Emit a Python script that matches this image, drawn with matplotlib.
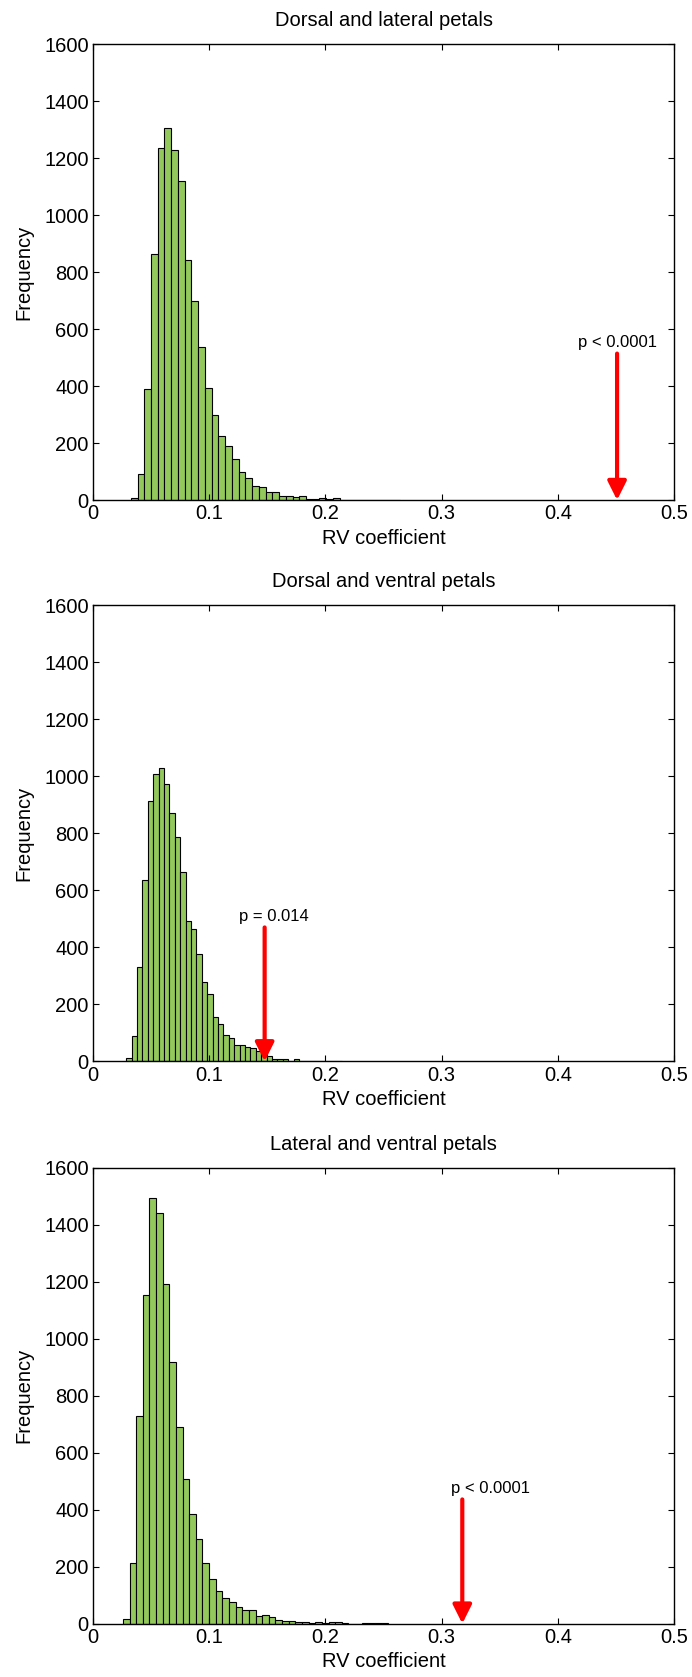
import numpy as np
import matplotlib
matplotlib.use("Agg")
import matplotlib.pyplot as plt

plt.rcParams['font.family'] = ['Liberation Sans', 'DejaVu Sans']

# histogram data (40 bins each)
titles = ["Dorsal and lateral petals", "Dorsal and ventral petals", "Lateral and ventral petals"]

start1 = 0.0325
width1 = 0.0058
counts1 = [8, 93, 391, 864, 1235, 1305, 1227, 1120, 842, 699,
           538, 394, 300, 226, 190, 145, 100, 79, 50, 47,
           30, 27, 13, 16, 10, 13, 5, 4, 6, 4,
           8, 2, 2, 1, 0, 1, 0, 1, 0, 1]

start2 = 0.0285
width2 = 0.00465
counts2 = [13, 88, 330, 638, 912, 1007, 1028, 975, 872, 789,
           666, 494, 465, 376, 278, 235, 154, 130, 91, 81,
           58, 58, 49, 46, 37, 28, 19, 9, 9, 9,
           2, 7, 1, 3, 1, 1, 1, 1, 0, 1]

start3 = 0.0257
width3 = 0.00571
counts3 = [16, 214, 729, 1155, 1494, 1440, 1193, 918, 689, 508,
           385, 298, 214, 155, 116, 89, 76, 60, 47, 49,
           27, 29, 22, 14, 10, 8, 5, 5, 1, 6,
           1, 5, 5, 1, 0, 0, 1, 1, 1, 1]

# observed RV coefficients and p-value labels
obs_rv = [0.451, 0.1477, 0.3178]
arrow_top = [514, 470, 436]
p_labels = ["p < 0.0001", "p = 0.014", "p < 0.0001"]
label_x = [0.451, 0.156, 0.342]

xticks = [0, 0.1, 0.2, 0.3, 0.4, 0.5]
xticklabels = ["0", "0.1", "0.2", "0.3", "0.4", "0.5"]
yticks = [0, 200, 400, 600, 800, 1000, 1200, 1400, 1600]

starts = [start1, start2, start3]
widths = [width1, width2, width3]
counts = [counts1, counts2, counts3]

fig = plt.figure(figsize=(6.92, 16.77), dpi=100)
bottoms = [0.7018, 0.3671, 0.0318]

for i in range(3):
	ax = fig.add_axes([0.1344, bottoms[i], 0.8396, 0.2719])
	c = np.array(counts[i])
	edges = starts[i] + widths[i] * np.arange(len(c))
	ax.bar(edges, c, width=widths[i], align='edge', color='#93c95c', edgecolor='black', linewidth=0.8)

	ax.annotate('', xy=(obs_rv[i], 0), xytext=(obs_rv[i], arrow_top[i]),
		arrowprops=dict(arrowstyle='-|>,head_length=0.4,head_width=0.2', color='red', lw=3,
			mutation_scale=28, shrinkA=0, shrinkB=0))
	ax.text(label_x[i], arrow_top[i] + 12, p_labels[i], ha='center', va='bottom', fontsize=12)

	ax.set_xlim(0, 0.5)
	ax.set_ylim(0, 1600)
	ax.set_xticks(xticks)
	ax.set_xticklabels(xticklabels)
	ax.set_yticks(yticks)
	ax.tick_params(direction='in', top=True, right=True, length=4, width=0.8, labelsize=14.5, pad=3)
	for s in ax.spines.values():
		s.set_linewidth(1.0)
	ax.set_title(titles[i], fontsize=14.5, pad=13)
	ax.set_xlabel("RV coefficient", fontsize=14.5, labelpad=4)
	ax.set_ylabel("Frequency", fontsize=14.5, labelpad=8)

fig.savefig("out.png", dpi=100)
